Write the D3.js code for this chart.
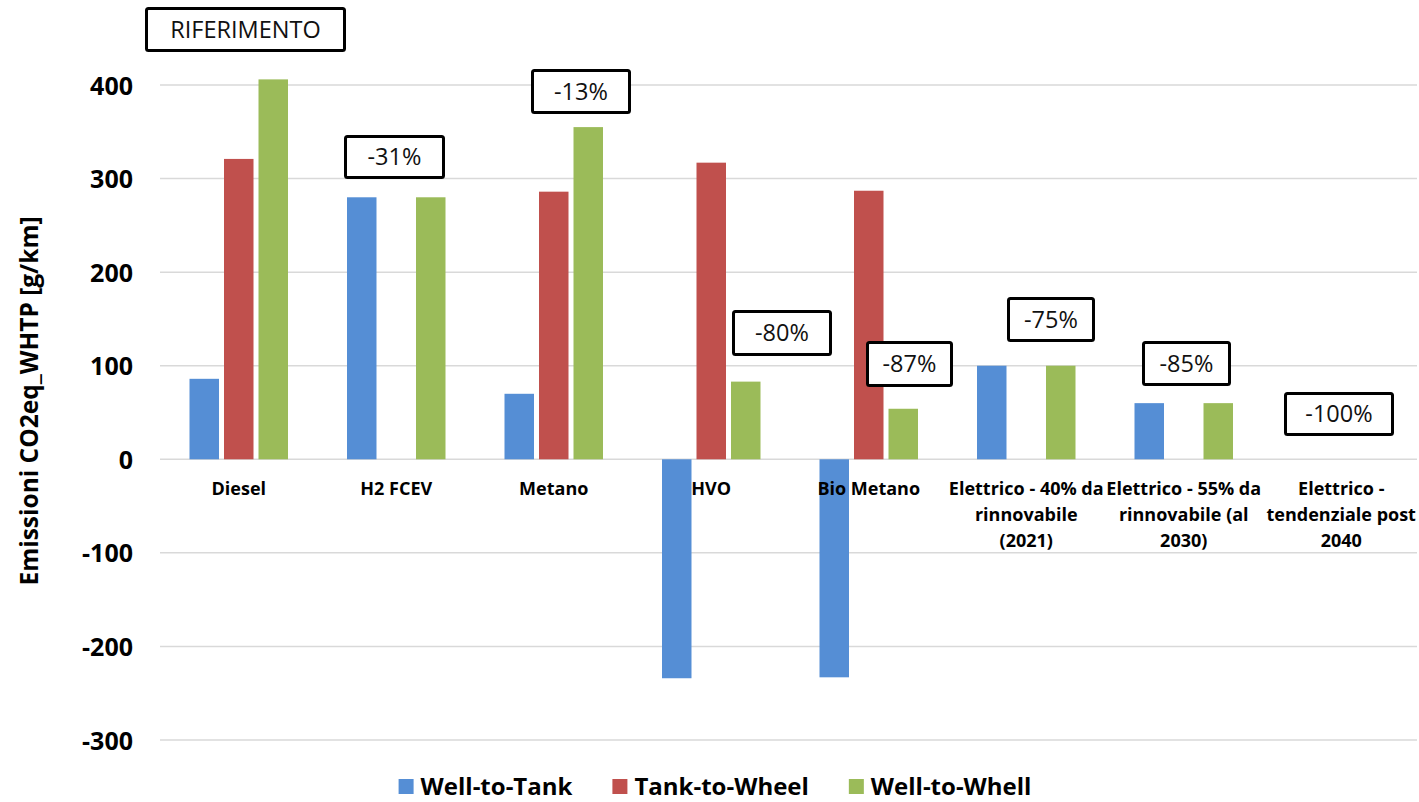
<!DOCTYPE html>
<html>
<head>
<meta charset="utf-8">
<script src="https://cdn.jsdelivr.net/npm/d3@7"></script>
<style>
  html, body { margin: 0; padding: 0; background: #fff; }
  svg { display: block; }
</style>
</head>
<body>
<script>
// Emissions per powertrain, g/km CO2eq (WHTP cycle)
const categories = [
  "Diesel", "H2 FCEV", "Metano", "HVO", "Bio Metano",
  "Elettrico - 40% da rinnovabile (2021)",
  "Elettrico - 55% da rinnovabile (al 2030)",
  "Elettrico - tendenziale post 2040"
];
const categoryLines = [
  ["Diesel"], ["H2 FCEV"], ["Metano"], ["HVO"], ["Bio Metano"],
  ["Elettrico - 40% da", "rinnovabile", "(2021)"],
  ["Elettrico - 55% da", "rinnovabile (al", "2030)"],
  ["Elettrico -", "tendenziale post", "2040"]
];
const seriesNames = ["Well-to-Tank", "Tank-to-Wheel", "Well-to-Whell"];
const wellToTank   = [86, 280, 70, -234, -233, 100, 60, 0];
const tankToWheel  = [321, 0, 286, 317, 287, 0, 0, 0];
const wellToWheel  = [406, 280, 355, 83, 54, 100, 60, 0];
const yTicks = [-300, -200, -100, 0, 100, 200, 300, 400];
const boxLabels = ["RIFERIMENTO", "-31%", "-13%", "-80%", "-87%", "-75%", "-85%", "-100%"];

const colors = ["#558ed5", "#c0504d", "#9bbb59"];
const W = 1419, H = 802;
const plot = { left: 160, right: 1420, top: 85, bottom: 740 };

const svg = d3.select("body").append("svg").attr("width", W).attr("height", H);

const x = d3.scaleBand().domain(categories).range([plot.left, plot.right]).padding(0);
const xs = d3.scaleBand().domain(seriesNames).range([0, x.bandwidth()])
  .paddingInner(0.145).paddingOuter(0.855);
const y = d3.scaleLinear().domain([-300, 400]).range([plot.bottom, plot.top]);

// horizontal gridlines
svg.append("g").selectAll("line").data(yTicks).join("line")
  .attr("x1", plot.left).attr("x2", W - 2)
  .attr("y1", d => y(d)).attr("y2", d => y(d))
  .attr("stroke", "#d9d9d9").attr("stroke-width", 1.5);

// y axis tick labels (plain hyphen for negatives)
const yAxis = d3.axisLeft(y).tickValues(yTicks).tickSize(0).tickPadding(0)
  .tickFormat(d => String(d));
const gy = svg.append("g").attr("transform", "translate(133,0)").call(yAxis);
gy.select(".domain").remove();
gy.selectAll("text")
  .attr("font-family", "'Open Sans', sans-serif")
  .attr("font-weight", "bold").attr("font-size", 25).attr("fill", "#000")
  .attr("dy", "0.36em");

// bars
const seriesValues = [wellToTank, tankToWheel, wellToWheel];
const barData = [];
categories.forEach((c, i) => {
  seriesNames.forEach((s, j) => {
    barData.push({ cat: c, series: s, value: seriesValues[j][i], color: colors[j] });
  });
});
svg.append("g").selectAll("rect").data(barData.filter(d => d.value !== 0)).join("rect")
  .attr("x", d => x(d.cat) + xs(d.series))
  .attr("width", xs.bandwidth())
  .attr("y", d => y(Math.max(0, d.value)))
  .attr("height", d => Math.abs(y(d.value) - y(0)))
  .attr("fill", d => d.color);

// category labels
const gx = svg.append("g");
categories.forEach((c, i) => {
  const t = gx.append("text")
    .attr("x", x(c) + x.bandwidth() / 2)
    .attr("y", 495)
    .attr("text-anchor", "middle")
    .attr("font-family", "'Open Sans', sans-serif")
    .attr("font-weight", "bold").attr("font-size", 18).attr("fill", "#000");
  categoryLines[i].forEach((ln, k) => {
    t.append("tspan").attr("x", x(c) + x.bandwidth() / 2).attr("dy", k === 0 ? 0 : 26).text(ln);
  });
});

// y axis title
svg.append("text")
  .attr("transform", "translate(38,401) rotate(-90)")
  .attr("text-anchor", "middle")
  .attr("font-family", "'Open Sans', sans-serif")
  .attr("font-weight", "bold").attr("font-size", 24.5).attr("fill", "#000")
  .text("Emissioni CO2eq_WHTP [g/km]");

// reduction callouts (box: left, top, right, bottom)
const boxFrames = [
  [145, 7, 346, 52], [344, 135, 445, 179], [531, 69, 631, 114], [732, 310, 832, 356],
  [866, 341, 953, 387], [1007, 297, 1095, 342], [1142, 341, 1231, 386], [1284, 392, 1394, 436]
];
const gb = svg.append("g");
boxLabels.forEach((lbl, i) => {
  const [x0, y0, x1, y1] = boxFrames[i];
  gb.append("rect")
    .attr("x", x0 + 1.5).attr("y", y0 + 1.5)
    .attr("width", x1 - x0 - 3).attr("height", y1 - y0 - 3)
    .attr("rx", 2)
    .attr("fill", "#fff").attr("stroke", "#000").attr("stroke-width", 3);
  gb.append("text")
    .attr("x", (x0 + x1) / 2).attr("y", (y0 + y1) / 2)
    .attr("dy", "0.36em")
    .attr("text-anchor", "middle")
    .attr("font-family", "'Open Sans', sans-serif")
    .attr("font-size", 23.5).attr("fill", "#111")
    .text(lbl);
});

// legend
const lg = svg.append("g");
let lx = 0;
seriesNames.forEach((s, j) => {
  const g = lg.append("g");
  g.append("rect").attr("x", 0).attr("y", -16).attr("width", 15).attr("height", 15).attr("fill", colors[j]);
  const t = g.append("text").attr("x", 22).attr("y", 0)
    .attr("font-family", "'Open Sans', sans-serif")
    .attr("font-weight", "bold").attr("font-size", 24).attr("fill", "#000").text(s);
  const w = 22 + t.node().getComputedTextLength();
  g.attr("transform", `translate(${lx},0)`);
  lx += w + 40;
});
const total = lx - 40;
lg.attr("transform", `translate(${715 - total / 2},795)`);
</script>
</body>
</html>
